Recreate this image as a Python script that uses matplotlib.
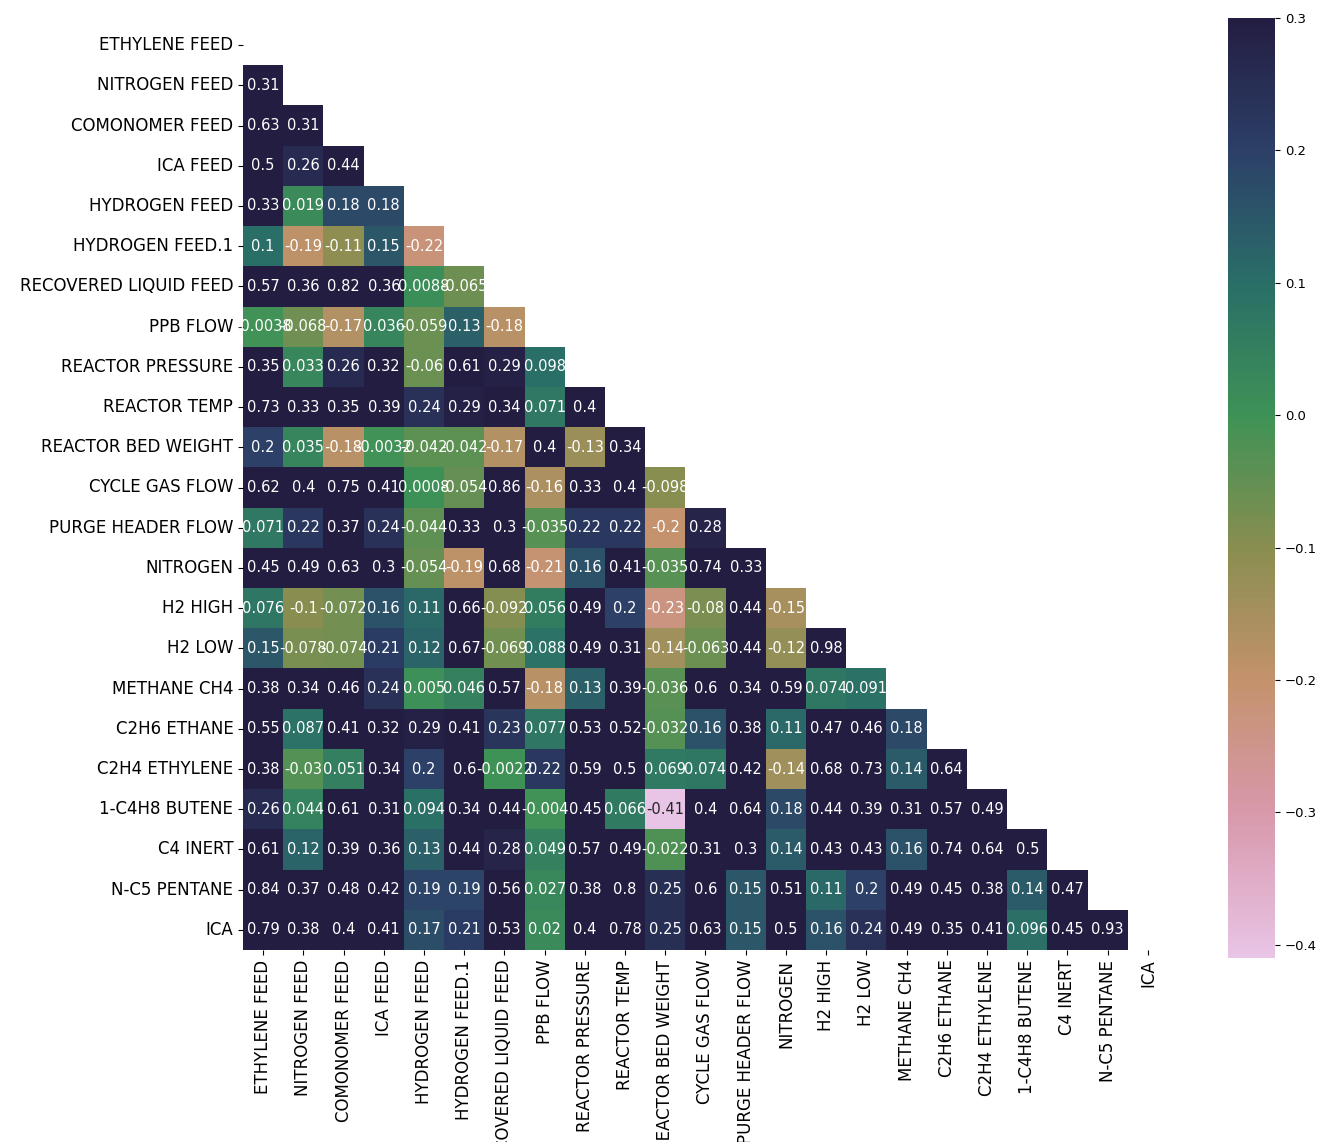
import numpy as np
import pandas as pd
import seaborn as sns
from matplotlib import pyplot as plt
from matplotlib.colors import LinearSegmentedColormap

labels = ["ETHYLENE FEED", "NITROGEN FEED", "COMONOMER FEED", "ICA FEED", "HYDROGEN FEED",
          "HYDROGEN FEED.1", "RECOVERED LIQUID FEED", "PPB FLOW", "REACTOR PRESSURE", "REACTOR TEMP",
          "REACTOR BED WEIGHT", "CYCLE GAS FLOW", "PURGE HEADER FLOW", "NITROGEN", "H2 HIGH", "H2 LOW",
          "METHANE CH4", "C2H6 ETHANE", "C2H4 ETHYLENE", "1-C4H8 BUTENE", "C4 INERT", "N-C5 PENTANE", "ICA"]

# lower triangle of the correlation matrix, row by row
rows = [
    [],
    [0.31],
    [0.63, 0.31],
    [0.5, 0.26, 0.44],
    [0.33, 0.019, 0.18, 0.18],
    [0.1, -0.19, -0.11, 0.15, -0.22],
    [0.57, 0.36, 0.82, 0.36, 0.0088, -0.065],
    [-0.0038, -0.068, -0.17, 0.036, -0.059, 0.13, -0.18],
    [0.35, 0.033, 0.26, 0.32, -0.06, 0.61, 0.29, 0.098],
    [0.73, 0.33, 0.35, 0.39, 0.24, 0.29, 0.34, 0.071, 0.4],
    [0.2, 0.035, -0.18, -0.0032, -0.042, -0.042, -0.17, 0.4, -0.13, 0.34],
    [0.62, 0.4, 0.75, 0.41, 0.0008, -0.054, 0.86, -0.16, 0.33, 0.4, -0.098],
    [0.071, 0.22, 0.37, 0.24, -0.044, 0.33, 0.3, -0.035, 0.22, 0.22, -0.2, 0.28],
    [0.45, 0.49, 0.63, 0.3, -0.054, -0.19, 0.68, -0.21, 0.16, 0.41, -0.035, 0.74, 0.33],
    [0.076, -0.1, -0.072, 0.16, 0.11, 0.66, -0.092, 0.056, 0.49, 0.2, -0.23, -0.08, 0.44, -0.15],
    [0.15, -0.078, -0.074, 0.21, 0.12, 0.67, -0.069, 0.088, 0.49, 0.31, -0.14, -0.063, 0.44, -0.12, 0.98],
    [0.38, 0.34, 0.46, 0.24, 0.005, 0.046, 0.57, -0.18, 0.13, 0.39, -0.036, 0.6, 0.34, 0.59, 0.074, 0.091],
    [0.55, 0.087, 0.41, 0.32, 0.29, 0.41, 0.23, 0.077, 0.53, 0.52, -0.032, 0.16, 0.38, 0.11, 0.47, 0.46, 0.18],
    [0.38, -0.03, 0.051, 0.34, 0.2, 0.6, -0.0022, 0.22, 0.59, 0.5, 0.069, 0.074, 0.42, -0.14, 0.68, 0.73,
     0.14, 0.64],
    [0.26, 0.044, 0.61, 0.31, 0.094, 0.34, 0.44, -0.004, 0.45, 0.066, -0.41, 0.4, 0.64, 0.18, 0.44, 0.39,
     0.31, 0.57, 0.49],
    [0.61, 0.12, 0.39, 0.36, 0.13, 0.44, 0.28, 0.049, 0.57, 0.49, -0.022, 0.31, 0.3, 0.14, 0.43, 0.43,
     0.16, 0.74, 0.64, 0.5],
    [0.84, 0.37, 0.48, 0.42, 0.19, 0.19, 0.56, 0.027, 0.38, 0.8, 0.25, 0.6, 0.15, 0.51, 0.11, 0.2,
     0.49, 0.45, 0.38, 0.14, 0.47],
    [0.79, 0.38, 0.4, 0.41, 0.17, 0.21, 0.53, 0.02, 0.4, 0.78, 0.25, 0.63, 0.15, 0.5, 0.16, 0.24,
     0.49, 0.35, 0.41, 0.096, 0.45, 0.93],
]

n = len(labels)
corr = np.full((n, n), np.nan)
for i, r in enumerate(rows):
    corr[i, :len(r)] = r
corr = pd.DataFrame(corr, index=labels, columns=labels)
mask = np.triu(np.ones((n, n), dtype=bool))

# cubehelix-like palette, light pink (low) -> dark navy (high)
vmin, vmax = -0.41, 0.3
stops = [-0.41, -0.3, -0.2, -0.1, 0.0, 0.1, 0.2, 0.3]
colors = ["#e8c4e6", "#d898aa", "#c4926c", "#888e50", "#3e9256", "#2a6e68", "#2c4068", "#241d42"]
cmap = LinearSegmentedColormap.from_list(
    "helix", [((s - vmin) / (vmax - vmin), c) for s, c in zip(stops, colors)])

fig = plt.figure(figsize=(13.39, 11.42), dpi=100)
ax = fig.add_axes([243 / 1339, 1 - 950 / 1142, 925 / 1339, 925 / 1142])
cax = fig.add_axes([1228 / 1339, 1 - 958 / 1142, 47 / 1339, 940 / 1142])

sns.heatmap(corr, mask=mask, vmin=vmin, vmax=vmax, cmap=cmap, annot=True, annot_kws={"size": 10.5},
            ax=ax, cbar_ax=cax)

ax.tick_params(axis="both", labelsize=12)
ax.set_xticklabels(labels, rotation=90)
ax.set_yticklabels(labels, rotation=0)
cax.tick_params(labelsize=9.5)
cax.set_yticks([0.3, 0.2, 0.1, 0.0, -0.1, -0.2, -0.3, -0.4])

fig.savefig("out.png", dpi=100)
